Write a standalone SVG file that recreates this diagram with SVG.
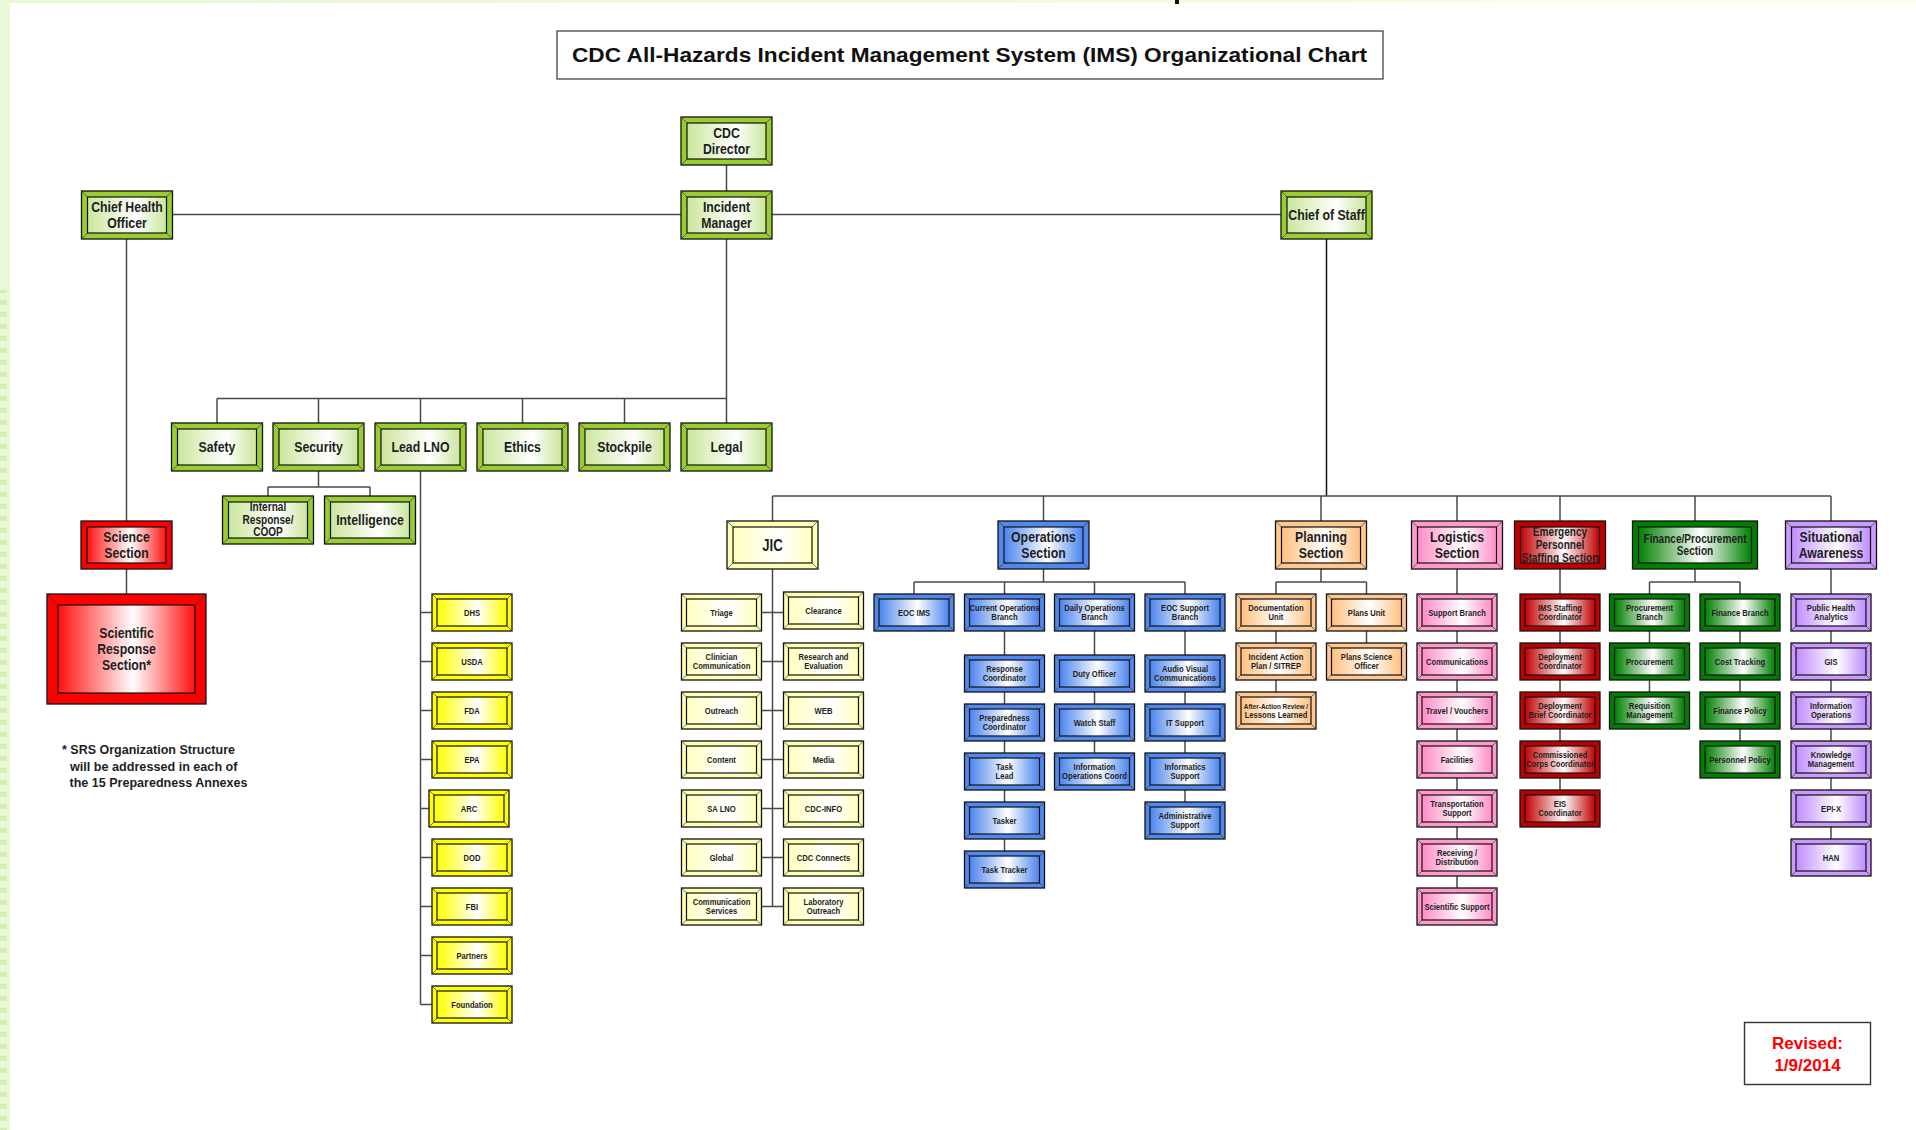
<svg xmlns="http://www.w3.org/2000/svg" xmlns:xlink="http://www.w3.org/1999/xlink" width="1916" height="1130" viewBox="0 0 1916 1130">
<style>
.o{stroke:#111;stroke-width:1.3}
.i{stroke:#111;stroke-width:1.2}
.cg .o{fill:#9acd32}.cg .i{fill:url(#gg)}
.cr .o{fill:#ff0000}.cr .i{fill:url(#gr)}
.cj .o{fill:#ffffb4}.cj .i{fill:url(#gj)}
.cy .o{fill:#ffff00}.cy .i{fill:url(#gy)}
.cb .o{fill:#5088ee}.cb .i{fill:url(#gb)}
.co .o{fill:#ffc890}.co .i{fill:url(#go)}
.cp .o{fill:#ff99cc}.cp .i{fill:url(#gp)}
.cd .o{fill:#c00000}.cd .i{fill:url(#gd)}
.cf .o{fill:#008000}.cf .i{fill:url(#gf)}
.cv .o{fill:#cc99ff}.cv .i{fill:url(#gv)}
.bv{stroke:#333;stroke-width:.7;fill:none}
text{font-family:"Liberation Sans",Arial,sans-serif;font-weight:bold;fill:#1e1e1e;text-anchor:middle}
.s{font-size:9.3px}.l{font-size:15px}.m{font-size:12.3px}.j{font-size:16px}
.fn{font-size:12.5px;text-anchor:start}
.rv{font-size:17px;fill:#ff0000}
.ttl{font-size:21px;fill:#111}
.cn{stroke:#4a4a4a;stroke-width:1.5;fill:none}
.cnk{stroke:#111;stroke-width:1.5;fill:none}
</style>
<defs>
<path id="bS" class="bv" d="M0 0L5 5M80 0L75 5M0 37L5 32M80 37L75 32"/>
<path id="bM" class="bv" d="M0 0L6 6M91 0L85 6M0 48L6 42M91 48L85 42"/>
<path id="bF" class="bv" d="M0 0L6 6M125 0L119 6M0 48L6 42M125 48L119 42"/>
<path id="bR" class="bv" d="M0 0L11 11M159 0L148 11M0 110L11 99M159 110L148 99"/>
<linearGradient id="gg"><stop offset="0" stop-color="#cbe69c"/><stop offset=".62" stop-color="#fff"/><stop offset="1" stop-color="#cbe69c"/></linearGradient>
<linearGradient id="gr"><stop offset="0" stop-color="#ff1010"/><stop offset=".55" stop-color="#fff"/><stop offset="1" stop-color="#ff1010"/></linearGradient>
<linearGradient id="gj"><stop offset="0" stop-color="#ffffc0"/><stop offset=".6" stop-color="#fff"/><stop offset="1" stop-color="#ffffc0"/></linearGradient>
<linearGradient id="gy"><stop offset="0" stop-color="#ffff00"/><stop offset=".58" stop-color="#fff"/><stop offset="1" stop-color="#ffff00"/></linearGradient>
<linearGradient id="gb"><stop offset="0" stop-color="#4a84ee"/><stop offset=".55" stop-color="#fff"/><stop offset="1" stop-color="#4a84ee"/></linearGradient>
<linearGradient id="go"><stop offset="0" stop-color="#ffc080"/><stop offset=".55" stop-color="#fff"/><stop offset="1" stop-color="#ffc080"/></linearGradient>
<linearGradient id="gp"><stop offset="0" stop-color="#ff8cc6"/><stop offset=".58" stop-color="#fff"/><stop offset="1" stop-color="#ff8cc6"/></linearGradient>
<linearGradient id="gd"><stop offset="0" stop-color="#c00000"/><stop offset=".55" stop-color="#fff"/><stop offset="1" stop-color="#c00000"/></linearGradient>
<linearGradient id="gf"><stop offset="0" stop-color="#008000"/><stop offset=".55" stop-color="#fff"/><stop offset="1" stop-color="#008000"/></linearGradient>
<linearGradient id="gv"><stop offset="0" stop-color="#c08cff"/><stop offset=".58" stop-color="#fff"/><stop offset="1" stop-color="#c08cff"/></linearGradient>
<linearGradient id="gtop"><stop offset="0" stop-color="#e6f7d2"/><stop offset="1" stop-color="#fbfff2"/></linearGradient>
<pattern id="dash" width="10" height="12" patternUnits="userSpaceOnUse"><rect width="7" height="5" fill="#d2efb6"/></pattern>
</defs>

<g id="background">
<rect width="1916" height="1130" fill="#fff"/>
<rect width="1916" height="3" fill="url(#gtop)"/>
<rect width="10" height="1130" fill="#eaf8d8"/>
<rect y="290" width="8" height="840" fill="url(#dash)"/>
<rect x="1175" y="0" width="4" height="4" fill="#111"/>
</g>

<g id="title">
<rect x="557" y="31" width="826" height="48" fill="#fff" stroke="#444" stroke-width="1.3"/>
<text class="ttl" x="969.5" y="61.5" textLength="795" lengthAdjust="spacingAndGlyphs">CDC All-Hazards Incident Management System (IMS) Organizational Chart</text>
</g>

<g id="connectors">
<path class="cn" d="M172.5 214.5H1281M726.5 165V191M726.5 239V423M217 398.5H726.5M217 398.5V423M318.5 398.5V423M420.5 398.5V423M522.5 398.5V423M624.5 398.5V423M318.5 471V487M268 487H370M268 487V496M370 487V496M420.5 471V1004.5M420.5 612.5H432M420.5 661.5H432M420.5 710.5H432M420.5 759.5H432M420.5 808.5H429M420.5 857.5H432M420.5 906.5H432M420.5 955.5H432M420.5 1004.5H432M126.5 239V521M126.5 569V594"/>
<path class="cnk" d="M1326.5 239V496"/>
<path class="cn" d="M772.5 496H1831M772.5 496V521M1043.5 496V521M1321 496V521M1457 496V521M1560 496V521M1695 496V521M1831 496V521M772.5 569V906.5M761.5 612.5H783.5M761.5 661.5H783.5M761.5 710.5H783.5M761.5 759.5H783.5M761.5 808.5H783.5M761.5 857.5H783.5M761.5 906.5H783.5M1043.5 569V582M914 582H1185M914 582V594M1004.5 582V851M1094.5 582V753M1185 582V802M1321 569V582M1276 582H1366.5M1276 582V692M1366.5 582V643M1457 569V888M1560 569V790M1695 569V582M1649.5 582H1740M1649.5 582V692M1740 582V741M1831 569V839"/>
</g>

<g id="n-cdc-director" class="cg" transform="translate(681 117)"><rect class="o" width="91" height="48"/><rect class="i" x="6" y="6" width="79" height="36"/><use href="#bM"/><text class="l" transform="translate(45.5 24) scale(.82 1)"><tspan x="0" y="-3.2">CDC</tspan><tspan x="0" y="13.3">Director</tspan></text></g>
<g id="n-chief-health-officer" class="cg" transform="translate(81.5 191)"><rect class="o" width="91" height="48"/><rect class="i" x="6" y="6" width="79" height="36"/><use href="#bM"/><text class="l" transform="translate(45.5 24) scale(.82 1)"><tspan x="0" y="-3.2">Chief Health</tspan><tspan x="0" y="13.3">Officer</tspan></text></g>
<g id="n-incident-manager" class="cg" transform="translate(681 191)"><rect class="o" width="91" height="48"/><rect class="i" x="6" y="6" width="79" height="36"/><use href="#bM"/><text class="l" transform="translate(45.5 24) scale(.82 1)"><tspan x="0" y="-3.2">Incident</tspan><tspan x="0" y="13.3">Manager</tspan></text></g>
<g id="n-chief-of-staff" class="cg" transform="translate(1281 191)"><rect class="o" width="91" height="48"/><rect class="i" x="6" y="6" width="79" height="36"/><use href="#bM"/><text class="l" transform="translate(45.5 24) scale(.82 1)"><tspan x="0" y="5.4">Chief of Staff</tspan></text></g>

<g id="n-safety" class="cg" transform="translate(171.5 423)"><rect class="o" width="91" height="48"/><rect class="i" x="6" y="6" width="79" height="36"/><use href="#bM"/><text class="l" transform="translate(45.5 24) scale(.82 1)"><tspan x="0" y="5.4">Safety</tspan></text></g>
<g id="n-security" class="cg" transform="translate(273 423)"><rect class="o" width="91" height="48"/><rect class="i" x="6" y="6" width="79" height="36"/><use href="#bM"/><text class="l" transform="translate(45.5 24) scale(.82 1)"><tspan x="0" y="5.4">Security</tspan></text></g>
<g id="n-lead-lno" class="cg" transform="translate(375 423)"><rect class="o" width="91" height="48"/><rect class="i" x="6" y="6" width="79" height="36"/><use href="#bM"/><text class="l" transform="translate(45.5 24) scale(.82 1)"><tspan x="0" y="5.4">Lead LNO</tspan></text></g>
<g id="n-ethics" class="cg" transform="translate(477 423)"><rect class="o" width="91" height="48"/><rect class="i" x="6" y="6" width="79" height="36"/><use href="#bM"/><text class="l" transform="translate(45.5 24) scale(.82 1)"><tspan x="0" y="5.4">Ethics</tspan></text></g>
<g id="n-stockpile" class="cg" transform="translate(579 423)"><rect class="o" width="91" height="48"/><rect class="i" x="6" y="6" width="79" height="36"/><use href="#bM"/><text class="l" transform="translate(45.5 24) scale(.82 1)"><tspan x="0" y="5.4">Stockpile</tspan></text></g>
<g id="n-legal" class="cg" transform="translate(681 423)"><rect class="o" width="91" height="48"/><rect class="i" x="6" y="6" width="79" height="36"/><use href="#bM"/><text class="l" transform="translate(45.5 24) scale(.82 1)"><tspan x="0" y="5.4">Legal</tspan></text></g>
<g id="n-internal-response" class="cg" transform="translate(222.5 496)"><rect class="o" width="91" height="48"/><rect class="i" x="6" y="6" width="79" height="36"/><use href="#bM"/><text class="m" transform="translate(45.5 24) scale(.82 1)"><tspan x="0" y="-9.3">Internal</tspan><tspan x="0" y="3.7">Response/</tspan><tspan x="0" y="16.5">COOP</tspan></text></g>
<g id="n-intelligence" class="cg" transform="translate(324.5 496)"><rect class="o" width="91" height="48"/><rect class="i" x="6" y="6" width="79" height="36"/><use href="#bM"/><text class="l" transform="translate(45.5 24) scale(.82 1)"><tspan x="0" y="5.4">Intelligence</tspan></text></g>

<g id="n-science-section" class="cr" transform="translate(81 521)"><rect class="o" width="91" height="48"/><rect class="i" x="6" y="6" width="79" height="36"/><use href="#bM"/><text class="l" transform="translate(45.5 24) scale(.82 1)"><tspan x="0" y="-2.9">Science</tspan><tspan x="0" y="13.1">Section</tspan></text></g>
<g id="n-scientific-response-section" class="cr" transform="translate(47 594)"><rect class="o" width="159" height="110"/><rect class="i" x="11" y="11" width="137" height="88"/><use href="#bR"/><text class="l" transform="translate(79.5 55) scale(.82 1)"><tspan x="0" y="-10.9">Scientific</tspan><tspan x="0" y="5.4">Response</tspan><tspan x="0" y="21.4">Section*</tspan></text></g>

<g id="n-dhs" class="cy" transform="translate(432 594)"><rect class="o" width="80" height="37"/><rect class="i" x="5" y="5" width="70" height="27"/><use href="#bS"/><text class="s" transform="translate(40 18.5) scale(.82 1)"><tspan x="0" y="3.3">DHS</tspan></text></g>
<g id="n-usda" class="cy" transform="translate(432 643)"><rect class="o" width="80" height="37"/><rect class="i" x="5" y="5" width="70" height="27"/><use href="#bS"/><text class="s" transform="translate(40 18.5) scale(.82 1)"><tspan x="0" y="3.3">USDA</tspan></text></g>
<g id="n-fda" class="cy" transform="translate(432 692)"><rect class="o" width="80" height="37"/><rect class="i" x="5" y="5" width="70" height="27"/><use href="#bS"/><text class="s" transform="translate(40 18.5) scale(.82 1)"><tspan x="0" y="3.3">FDA</tspan></text></g>
<g id="n-epa" class="cy" transform="translate(432 741)"><rect class="o" width="80" height="37"/><rect class="i" x="5" y="5" width="70" height="27"/><use href="#bS"/><text class="s" transform="translate(40 18.5) scale(.82 1)"><tspan x="0" y="3.3">EPA</tspan></text></g>
<g id="n-arc" class="cy" transform="translate(429 790)"><rect class="o" width="80" height="37"/><rect class="i" x="5" y="5" width="70" height="27"/><use href="#bS"/><text class="s" transform="translate(40 18.5) scale(.82 1)"><tspan x="0" y="3.3">ARC</tspan></text></g>
<g id="n-dod" class="cy" transform="translate(432 839)"><rect class="o" width="80" height="37"/><rect class="i" x="5" y="5" width="70" height="27"/><use href="#bS"/><text class="s" transform="translate(40 18.5) scale(.82 1)"><tspan x="0" y="3.3">DOD</tspan></text></g>
<g id="n-fbi" class="cy" transform="translate(432 888)"><rect class="o" width="80" height="37"/><rect class="i" x="5" y="5" width="70" height="27"/><use href="#bS"/><text class="s" transform="translate(40 18.5) scale(.82 1)"><tspan x="0" y="3.3">FBI</tspan></text></g>
<g id="n-partners" class="cy" transform="translate(432 937)"><rect class="o" width="80" height="37"/><rect class="i" x="5" y="5" width="70" height="27"/><use href="#bS"/><text class="s" transform="translate(40 18.5) scale(.82 1)"><tspan x="0" y="3.3">Partners</tspan></text></g>
<g id="n-foundation" class="cy" transform="translate(432 986)"><rect class="o" width="80" height="37"/><rect class="i" x="5" y="5" width="70" height="27"/><use href="#bS"/><text class="s" transform="translate(40 18.5) scale(.82 1)"><tspan x="0" y="3.3">Foundation</tspan></text></g>

<g id="n-jic" class="cj" transform="translate(727 521)"><rect class="o" width="91" height="48"/><rect class="i" x="6" y="6" width="79" height="36"/><use href="#bM"/><text class="j" transform="translate(45.5 24) scale(.82 1)"><tspan x="0" y="5.8">JIC</tspan></text></g>
<g id="n-triage" class="cj" transform="translate(681.5 594)"><rect class="o" width="80" height="37"/><rect class="i" x="5" y="5" width="70" height="27"/><use href="#bS"/><text class="s" transform="translate(40 18.5) scale(.82 1)"><tspan x="0" y="3.3">Triage</tspan></text></g>
<g id="n-clinician-communication" class="cj" transform="translate(681.5 643)"><rect class="o" width="80" height="37"/><rect class="i" x="5" y="5" width="70" height="27"/><use href="#bS"/><text class="s" transform="translate(40 18.5) scale(.82 1)"><tspan x="0" y="-1.5">Clinician</tspan><tspan x="0" y="7.8">Communication</tspan></text></g>
<g id="n-outreach" class="cj" transform="translate(681.5 692)"><rect class="o" width="80" height="37"/><rect class="i" x="5" y="5" width="70" height="27"/><use href="#bS"/><text class="s" transform="translate(40 18.5) scale(.82 1)"><tspan x="0" y="3.3">Outreach</tspan></text></g>
<g id="n-content" class="cj" transform="translate(681.5 741)"><rect class="o" width="80" height="37"/><rect class="i" x="5" y="5" width="70" height="27"/><use href="#bS"/><text class="s" transform="translate(40 18.5) scale(.82 1)"><tspan x="0" y="3.3">Content</tspan></text></g>
<g id="n-sa-lno" class="cj" transform="translate(681.5 790)"><rect class="o" width="80" height="37"/><rect class="i" x="5" y="5" width="70" height="27"/><use href="#bS"/><text class="s" transform="translate(40 18.5) scale(.82 1)"><tspan x="0" y="3.3">SA LNO</tspan></text></g>
<g id="n-global" class="cj" transform="translate(681.5 839)"><rect class="o" width="80" height="37"/><rect class="i" x="5" y="5" width="70" height="27"/><use href="#bS"/><text class="s" transform="translate(40 18.5) scale(.82 1)"><tspan x="0" y="3.3">Global</tspan></text></g>
<g id="n-communication-services" class="cj" transform="translate(681.5 888)"><rect class="o" width="80" height="37"/><rect class="i" x="5" y="5" width="70" height="27"/><use href="#bS"/><text class="s" transform="translate(40 18.5) scale(.82 1)"><tspan x="0" y="-1.5">Communication</tspan><tspan x="0" y="7.8">Services</tspan></text></g>
<g id="n-clearance" class="cj" transform="translate(783.5 592)"><rect class="o" width="80" height="37"/><rect class="i" x="5" y="5" width="70" height="27"/><use href="#bS"/><text class="s" transform="translate(40 18.5) scale(.82 1)"><tspan x="0" y="3.3">Clearance</tspan></text></g>
<g id="n-research-evaluation" class="cj" transform="translate(783.5 643)"><rect class="o" width="80" height="37"/><rect class="i" x="5" y="5" width="70" height="27"/><use href="#bS"/><text class="s" transform="translate(40 18.5) scale(.82 1)"><tspan x="0" y="-1.5">Research and</tspan><tspan x="0" y="7.8">Evaluation</tspan></text></g>
<g id="n-web" class="cj" transform="translate(783.5 692)"><rect class="o" width="80" height="37"/><rect class="i" x="5" y="5" width="70" height="27"/><use href="#bS"/><text class="s" transform="translate(40 18.5) scale(.82 1)"><tspan x="0" y="3.3">WEB</tspan></text></g>
<g id="n-media" class="cj" transform="translate(783.5 741)"><rect class="o" width="80" height="37"/><rect class="i" x="5" y="5" width="70" height="27"/><use href="#bS"/><text class="s" transform="translate(40 18.5) scale(.82 1)"><tspan x="0" y="3.3">Media</tspan></text></g>
<g id="n-cdc-info" class="cj" transform="translate(783.5 790)"><rect class="o" width="80" height="37"/><rect class="i" x="5" y="5" width="70" height="27"/><use href="#bS"/><text class="s" transform="translate(40 18.5) scale(.82 1)"><tspan x="0" y="3.3">CDC-INFO</tspan></text></g>
<g id="n-cdc-connects" class="cj" transform="translate(783.5 839)"><rect class="o" width="80" height="37"/><rect class="i" x="5" y="5" width="70" height="27"/><use href="#bS"/><text class="s" transform="translate(40 18.5) scale(.82 1)"><tspan x="0" y="3.3">CDC Connects</tspan></text></g>
<g id="n-laboratory-outreach" class="cj" transform="translate(783.5 888)"><rect class="o" width="80" height="37"/><rect class="i" x="5" y="5" width="70" height="27"/><use href="#bS"/><text class="s" transform="translate(40 18.5) scale(.82 1)"><tspan x="0" y="-1.5">Laboratory</tspan><tspan x="0" y="7.8">Outreach</tspan></text></g>

<g id="n-operations-section" class="cb" transform="translate(998 521)"><rect class="o" width="91" height="48"/><rect class="i" x="6" y="6" width="79" height="36"/><use href="#bM"/><text class="l" transform="translate(45.5 24) scale(.82 1)"><tspan x="0" y="-2.9">Operations</tspan><tspan x="0" y="13.1">Section</tspan></text></g>
<g id="n-eoc-ims" class="cb" transform="translate(874 594)"><rect class="o" width="80" height="37"/><rect class="i" x="5" y="5" width="70" height="27"/><use href="#bS"/><text class="s" transform="translate(40 18.5) scale(.82 1)"><tspan x="0" y="3.3">EOC IMS</tspan></text></g>
<g id="n-current-operations-branch" class="cb" transform="translate(964.5 594)"><rect class="o" width="80" height="37"/><rect class="i" x="5" y="5" width="70" height="27"/><use href="#bS"/><text class="s" transform="translate(40 18.5) scale(.82 1)"><tspan x="0" y="-1.5">Current Operations</tspan><tspan x="0" y="7.8">Branch</tspan></text></g>
<g id="n-daily-operations-branch" class="cb" transform="translate(1054.5 594)"><rect class="o" width="80" height="37"/><rect class="i" x="5" y="5" width="70" height="27"/><use href="#bS"/><text class="s" transform="translate(40 18.5) scale(.82 1)"><tspan x="0" y="-1.5">Daily Operations</tspan><tspan x="0" y="7.8">Branch</tspan></text></g>
<g id="n-eoc-support-branch" class="cb" transform="translate(1145 594)"><rect class="o" width="80" height="37"/><rect class="i" x="5" y="5" width="70" height="27"/><use href="#bS"/><text class="s" transform="translate(40 18.5) scale(.82 1)"><tspan x="0" y="-1.5">EOC Support</tspan><tspan x="0" y="7.8">Branch</tspan></text></g>
<g id="n-response-coordinator" class="cb" transform="translate(964.5 655)"><rect class="o" width="80" height="37"/><rect class="i" x="5" y="5" width="70" height="27"/><use href="#bS"/><text class="s" transform="translate(40 18.5) scale(.82 1)"><tspan x="0" y="-1.5">Response</tspan><tspan x="0" y="7.8">Coordinator</tspan></text></g>
<g id="n-preparedness-coordinator" class="cb" transform="translate(964.5 704)"><rect class="o" width="80" height="37"/><rect class="i" x="5" y="5" width="70" height="27"/><use href="#bS"/><text class="s" transform="translate(40 18.5) scale(.82 1)"><tspan x="0" y="-1.5">Preparedness</tspan><tspan x="0" y="7.8">Coordinator</tspan></text></g>
<g id="n-task-lead" class="cb" transform="translate(964.5 753)"><rect class="o" width="80" height="37"/><rect class="i" x="5" y="5" width="70" height="27"/><use href="#bS"/><text class="s" transform="translate(40 18.5) scale(.82 1)"><tspan x="0" y="-1.5">Task</tspan><tspan x="0" y="7.8">Lead</tspan></text></g>
<g id="n-tasker" class="cb" transform="translate(964.5 802)"><rect class="o" width="80" height="37"/><rect class="i" x="5" y="5" width="70" height="27"/><use href="#bS"/><text class="s" transform="translate(40 18.5) scale(.82 1)"><tspan x="0" y="3.3">Tasker</tspan></text></g>
<g id="n-task-tracker" class="cb" transform="translate(964.5 851)"><rect class="o" width="80" height="37"/><rect class="i" x="5" y="5" width="70" height="27"/><use href="#bS"/><text class="s" transform="translate(40 18.5) scale(.82 1)"><tspan x="0" y="3.3">Task Tracker</tspan></text></g>
<g id="n-duty-officer" class="cb" transform="translate(1054.5 655)"><rect class="o" width="80" height="37"/><rect class="i" x="5" y="5" width="70" height="27"/><use href="#bS"/><text class="s" transform="translate(40 18.5) scale(.82 1)"><tspan x="0" y="3.3">Duty Officer</tspan></text></g>
<g id="n-watch-staff" class="cb" transform="translate(1054.5 704)"><rect class="o" width="80" height="37"/><rect class="i" x="5" y="5" width="70" height="27"/><use href="#bS"/><text class="s" transform="translate(40 18.5) scale(.82 1)"><tspan x="0" y="3.3">Watch Staff</tspan></text></g>
<g id="n-information-operations-coord" class="cb" transform="translate(1054.5 753)"><rect class="o" width="80" height="37"/><rect class="i" x="5" y="5" width="70" height="27"/><use href="#bS"/><text class="s" transform="translate(40 18.5) scale(.82 1)"><tspan x="0" y="-1.5">Information</tspan><tspan x="0" y="7.8">Operations Coord</tspan></text></g>
<g id="n-audio-visual" class="cb" transform="translate(1145 655)"><rect class="o" width="80" height="37"/><rect class="i" x="5" y="5" width="70" height="27"/><use href="#bS"/><text class="s" transform="translate(40 18.5) scale(.82 1)"><tspan x="0" y="-1.5">Audio Visual</tspan><tspan x="0" y="7.8">Communications</tspan></text></g>
<g id="n-it-support" class="cb" transform="translate(1145 704)"><rect class="o" width="80" height="37"/><rect class="i" x="5" y="5" width="70" height="27"/><use href="#bS"/><text class="s" transform="translate(40 18.5) scale(.82 1)"><tspan x="0" y="3.3">IT Support</tspan></text></g>
<g id="n-informatics-support" class="cb" transform="translate(1145 753)"><rect class="o" width="80" height="37"/><rect class="i" x="5" y="5" width="70" height="27"/><use href="#bS"/><text class="s" transform="translate(40 18.5) scale(.82 1)"><tspan x="0" y="-1.5">Informatics</tspan><tspan x="0" y="7.8">Support</tspan></text></g>
<g id="n-administrative-support" class="cb" transform="translate(1145 802)"><rect class="o" width="80" height="37"/><rect class="i" x="5" y="5" width="70" height="27"/><use href="#bS"/><text class="s" transform="translate(40 18.5) scale(.82 1)"><tspan x="0" y="-1.5">Administrative</tspan><tspan x="0" y="7.8">Support</tspan></text></g>

<g id="n-planning-section" class="co" transform="translate(1275.5 521)"><rect class="o" width="91" height="48"/><rect class="i" x="6" y="6" width="79" height="36"/><use href="#bM"/><text class="l" transform="translate(45.5 24) scale(.82 1)"><tspan x="0" y="-2.9">Planning</tspan><tspan x="0" y="13.1">Section</tspan></text></g>
<g id="n-documentation-unit" class="co" transform="translate(1236 594)"><rect class="o" width="80" height="37"/><rect class="i" x="5" y="5" width="70" height="27"/><use href="#bS"/><text class="s" transform="translate(40 18.5) scale(.82 1)"><tspan x="0" y="-1.5">Documentation</tspan><tspan x="0" y="7.8">Unit</tspan></text></g>
<g id="n-incident-action-plan" class="co" transform="translate(1236 643)"><rect class="o" width="80" height="37"/><rect class="i" x="5" y="5" width="70" height="27"/><use href="#bS"/><text class="s" transform="translate(40 18.5) scale(.82 1)"><tspan x="0" y="-1.5">Incident Action</tspan><tspan x="0" y="7.8">Plan / SITREP</tspan></text></g>
<g id="n-after-action-review" class="co" transform="translate(1236 692)"><rect class="o" width="80" height="37"/><rect class="i" x="5" y="5" width="70" height="27"/><use href="#bS"/><text class="s" transform="translate(40 18.5) scale(.82 1)"><tspan x="0" y="-1.8" font-size="7.8">After-Action Review /</tspan><tspan x="0" y="7.8">Lessons Learned</tspan></text></g>
<g id="n-plans-unit" class="co" transform="translate(1326.5 594)"><rect class="o" width="80" height="37"/><rect class="i" x="5" y="5" width="70" height="27"/><use href="#bS"/><text class="s" transform="translate(40 18.5) scale(.82 1)"><tspan x="0" y="3.3">Plans Unit</tspan></text></g>
<g id="n-plans-science-officer" class="co" transform="translate(1326.5 643)"><rect class="o" width="80" height="37"/><rect class="i" x="5" y="5" width="70" height="27"/><use href="#bS"/><text class="s" transform="translate(40 18.5) scale(.82 1)"><tspan x="0" y="-1.5">Plans Science</tspan><tspan x="0" y="7.8">Officer</tspan></text></g>

<g id="n-logistics-section" class="cp" transform="translate(1411.5 521)"><rect class="o" width="91" height="48"/><rect class="i" x="6" y="6" width="79" height="36"/><use href="#bM"/><text class="l" transform="translate(45.5 24) scale(.82 1)"><tspan x="0" y="-2.9">Logistics</tspan><tspan x="0" y="13.1">Section</tspan></text></g>
<g id="n-support-branch" class="cp" transform="translate(1417 594)"><rect class="o" width="80" height="37"/><rect class="i" x="5" y="5" width="70" height="27"/><use href="#bS"/><text class="s" transform="translate(40 18.5) scale(.82 1)"><tspan x="0" y="3.3">Support Branch</tspan></text></g>
<g id="n-communications" class="cp" transform="translate(1417 643)"><rect class="o" width="80" height="37"/><rect class="i" x="5" y="5" width="70" height="27"/><use href="#bS"/><text class="s" transform="translate(40 18.5) scale(.82 1)"><tspan x="0" y="3.3">Communications</tspan></text></g>
<g id="n-travel-vouchers" class="cp" transform="translate(1417 692)"><rect class="o" width="80" height="37"/><rect class="i" x="5" y="5" width="70" height="27"/><use href="#bS"/><text class="s" transform="translate(40 18.5) scale(.82 1)"><tspan x="0" y="3.3">Travel / Vouchers</tspan></text></g>
<g id="n-facilities" class="cp" transform="translate(1417 741)"><rect class="o" width="80" height="37"/><rect class="i" x="5" y="5" width="70" height="27"/><use href="#bS"/><text class="s" transform="translate(40 18.5) scale(.82 1)"><tspan x="0" y="3.3">Facilities</tspan></text></g>
<g id="n-transportation-support" class="cp" transform="translate(1417 790)"><rect class="o" width="80" height="37"/><rect class="i" x="5" y="5" width="70" height="27"/><use href="#bS"/><text class="s" transform="translate(40 18.5) scale(.82 1)"><tspan x="0" y="-1.5">Transportation</tspan><tspan x="0" y="7.8">Support</tspan></text></g>
<g id="n-receiving-distribution" class="cp" transform="translate(1417 839)"><rect class="o" width="80" height="37"/><rect class="i" x="5" y="5" width="70" height="27"/><use href="#bS"/><text class="s" transform="translate(40 18.5) scale(.82 1)"><tspan x="0" y="-1.5">Receiving /</tspan><tspan x="0" y="7.8">Distribution</tspan></text></g>
<g id="n-scientific-support" class="cp" transform="translate(1417 888)"><rect class="o" width="80" height="37"/><rect class="i" x="5" y="5" width="70" height="27"/><use href="#bS"/><text class="s" transform="translate(40 18.5) scale(.82 1)"><tspan x="0" y="3.3">Scientific Support</tspan></text></g>

<g id="n-epss" class="cd" transform="translate(1514.5 521)"><rect class="o" width="91" height="48"/><rect class="i" x="6" y="6" width="79" height="36"/><use href="#bM"/><text class="m" transform="translate(45.5 24) scale(.82 1)"><tspan x="0" y="-8.9">Emergency</tspan><tspan x="0" y="3.7">Personnel</tspan><tspan x="0" y="17.1">Staffing Section</tspan></text></g>
<g id="n-ims-staffing-coordinator" class="cd" transform="translate(1520 594)"><rect class="o" width="80" height="37"/><rect class="i" x="5" y="5" width="70" height="27"/><use href="#bS"/><text class="s" transform="translate(40 18.5) scale(.82 1)"><tspan x="0" y="-1.5">IMS Staffing</tspan><tspan x="0" y="7.8">Coordinator</tspan></text></g>
<g id="n-deployment-coordinator" class="cd" transform="translate(1520 643)"><rect class="o" width="80" height="37"/><rect class="i" x="5" y="5" width="70" height="27"/><use href="#bS"/><text class="s" transform="translate(40 18.5) scale(.82 1)"><tspan x="0" y="-1.5">Deployment</tspan><tspan x="0" y="7.8">Coordinator</tspan></text></g>
<g id="n-deployment-brief-coordinator" class="cd" transform="translate(1520 692)"><rect class="o" width="80" height="37"/><rect class="i" x="5" y="5" width="70" height="27"/><use href="#bS"/><text class="s" transform="translate(40 18.5) scale(.82 1)"><tspan x="0" y="-1.5">Deployment</tspan><tspan x="0" y="7.8">Brief Coordinator</tspan></text></g>
<g id="n-commissioned-corps-coordinator" class="cd" transform="translate(1520 741)"><rect class="o" width="80" height="37"/><rect class="i" x="5" y="5" width="70" height="27"/><use href="#bS"/><text class="s" transform="translate(40 18.5) scale(.82 1)"><tspan x="0" y="-1.5">Commissioned</tspan><tspan x="0" y="7.8">Corps Coordinator</tspan></text></g>
<g id="n-eis-coordinator" class="cd" transform="translate(1520 790)"><rect class="o" width="80" height="37"/><rect class="i" x="5" y="5" width="70" height="27"/><use href="#bS"/><text class="s" transform="translate(40 18.5) scale(.82 1)"><tspan x="0" y="-1.5">EIS</tspan><tspan x="0" y="7.8">Coordinator</tspan></text></g>

<g id="n-finance-procurement-section" class="cf" transform="translate(1632.5 521)"><rect class="o" width="125" height="48"/><rect class="i" x="6" y="6" width="113" height="36"/><use href="#bF"/><text class="m" transform="translate(62.5 24) scale(.82 1)"><tspan x="0" y="-2.3">Finance/Procurement</tspan><tspan x="0" y="10.4">Section</tspan></text></g>
<g id="n-procurement-branch" class="cf" transform="translate(1609.5 594)"><rect class="o" width="80" height="37"/><rect class="i" x="5" y="5" width="70" height="27"/><use href="#bS"/><text class="s" transform="translate(40 18.5) scale(.82 1)"><tspan x="0" y="-1.5">Procurement</tspan><tspan x="0" y="7.8">Branch</tspan></text></g>
<g id="n-procurement" class="cf" transform="translate(1609.5 643)"><rect class="o" width="80" height="37"/><rect class="i" x="5" y="5" width="70" height="27"/><use href="#bS"/><text class="s" transform="translate(40 18.5) scale(.82 1)"><tspan x="0" y="3.3">Procurement</tspan></text></g>
<g id="n-requisition-management" class="cf" transform="translate(1609.5 692)"><rect class="o" width="80" height="37"/><rect class="i" x="5" y="5" width="70" height="27"/><use href="#bS"/><text class="s" transform="translate(40 18.5) scale(.82 1)"><tspan x="0" y="-1.5">Requisition</tspan><tspan x="0" y="7.8">Management</tspan></text></g>
<g id="n-finance-branch" class="cf" transform="translate(1700 594)"><rect class="o" width="80" height="37"/><rect class="i" x="5" y="5" width="70" height="27"/><use href="#bS"/><text class="s" transform="translate(40 18.5) scale(.82 1)"><tspan x="0" y="3.3">Finance Branch</tspan></text></g>
<g id="n-cost-tracking" class="cf" transform="translate(1700 643)"><rect class="o" width="80" height="37"/><rect class="i" x="5" y="5" width="70" height="27"/><use href="#bS"/><text class="s" transform="translate(40 18.5) scale(.82 1)"><tspan x="0" y="3.3">Cost Tracking</tspan></text></g>
<g id="n-finance-policy" class="cf" transform="translate(1700 692)"><rect class="o" width="80" height="37"/><rect class="i" x="5" y="5" width="70" height="27"/><use href="#bS"/><text class="s" transform="translate(40 18.5) scale(.82 1)"><tspan x="0" y="3.3">Finance Policy</tspan></text></g>
<g id="n-personnel-policy" class="cf" transform="translate(1700 741)"><rect class="o" width="80" height="37"/><rect class="i" x="5" y="5" width="70" height="27"/><use href="#bS"/><text class="s" transform="translate(40 18.5) scale(.82 1)"><tspan x="0" y="3.3">Personnel Policy</tspan></text></g>

<g id="n-situational-awareness" class="cv" transform="translate(1785.5 521)"><rect class="o" width="91" height="48"/><rect class="i" x="6" y="6" width="79" height="36"/><use href="#bM"/><text class="l" transform="translate(45.5 24) scale(.82 1)"><tspan x="0" y="-2.9">Situational</tspan><tspan x="0" y="13.1">Awareness</tspan></text></g>
<g id="n-public-health-analytics" class="cv" transform="translate(1791 594)"><rect class="o" width="80" height="37"/><rect class="i" x="5" y="5" width="70" height="27"/><use href="#bS"/><text class="s" transform="translate(40 18.5) scale(.82 1)"><tspan x="0" y="-1.5">Public Health</tspan><tspan x="0" y="7.8">Analytics</tspan></text></g>
<g id="n-gis" class="cv" transform="translate(1791 643)"><rect class="o" width="80" height="37"/><rect class="i" x="5" y="5" width="70" height="27"/><use href="#bS"/><text class="s" transform="translate(40 18.5) scale(.82 1)"><tspan x="0" y="3.3">GIS</tspan></text></g>
<g id="n-information-operations" class="cv" transform="translate(1791 692)"><rect class="o" width="80" height="37"/><rect class="i" x="5" y="5" width="70" height="27"/><use href="#bS"/><text class="s" transform="translate(40 18.5) scale(.82 1)"><tspan x="0" y="-1.5">Information</tspan><tspan x="0" y="7.8">Operations</tspan></text></g>
<g id="n-knowledge-management" class="cv" transform="translate(1791 741)"><rect class="o" width="80" height="37"/><rect class="i" x="5" y="5" width="70" height="27"/><use href="#bS"/><text class="s" transform="translate(40 18.5) scale(.82 1)"><tspan x="0" y="-1.5">Knowledge</tspan><tspan x="0" y="7.8">Management</tspan></text></g>
<g id="n-epi-x" class="cv" transform="translate(1791 790)"><rect class="o" width="80" height="37"/><rect class="i" x="5" y="5" width="70" height="27"/><use href="#bS"/><text class="s" transform="translate(40 18.5) scale(.82 1)"><tspan x="0" y="3.3">EPI-X</tspan></text></g>
<g id="n-han" class="cv" transform="translate(1791 839)"><rect class="o" width="80" height="37"/><rect class="i" x="5" y="5" width="70" height="27"/><use href="#bS"/><text class="s" transform="translate(40 18.5) scale(.82 1)"><tspan x="0" y="3.3">HAN</tspan></text></g>

<g id="footnote">
<text class="fn" x="62" y="754" textLength="173" lengthAdjust="spacingAndGlyphs">* SRS Organization Structure</text>
<text class="fn" x="70" y="770.5" textLength="167.5" lengthAdjust="spacingAndGlyphs">will be addressed in each of</text>
<text class="fn" x="69.5" y="786.8" textLength="178" lengthAdjust="spacingAndGlyphs">the 15 Preparedness Annexes</text>
</g>

<g id="revised">
<rect x="1744.5" y="1022.5" width="126" height="62" fill="#fff" stroke="#333" stroke-width="1.4"/>
<text class="rv" x="1807.5" y="1048.8">Revised:</text>
<text class="rv" x="1807.5" y="1071.3">1/9/2014</text>
</g>
</svg>
